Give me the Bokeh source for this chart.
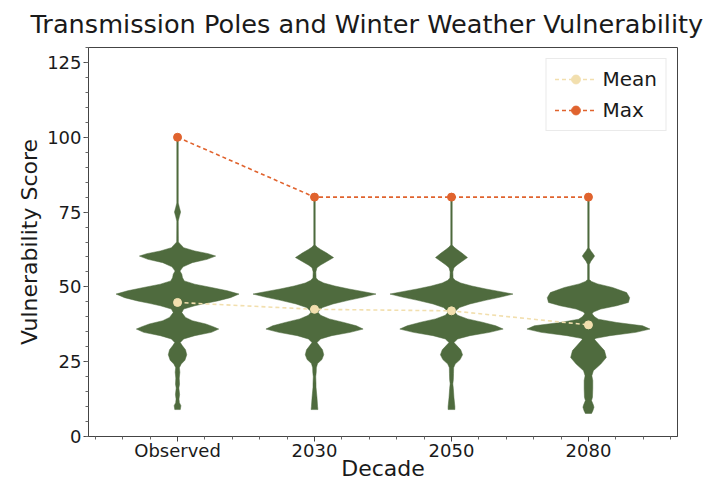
import numpy as np
from bokeh.plotting import figure
from bokeh.models import Range1d, FixedTicker, SingleIntervalTicker, ColumnDataSource, Legend, LegendItem
from bokeh.embed import file_html
from bokeh.resources import INLINE

# ---------------- data ----------------
decades = ["Observed", "2030", "2050", "2080"]
mean_scores = [44.8, 42.5, 42.0, 37.3]
max_scores = [100, 80, 80, 80]

# violin density profiles (score level, relative density; 1 = widest point of each violin)
obs_y = [100, 78, 76.5, 75, 73.5, 72, 65, 64.2, 63.1, 62, 61.1, 60.3, 59.2, 58.1, 56.7, 55.3,
         54.2, 53.1, 52, 50.9, 49.8, 48.7, 47.6, 46.4, 45.3, 44.5, 43.7, 42.6, 41.4,
         39.8, 38.7, 37.6, 36.7, 35.9, 34.8, 33.7, 32.6, 31.4, 30.3, 29, 27.3, 25.5, 24.2,
         23, 21.5, 19.5, 17.5, 16.2, 14, 12.5, 11.3, 10.3, 9]
obs_d = [0.012, 0.012, 0.03, 0.05, 0.03, 0.012, 0.014, 0.05, 0.1, 0.28, 0.5, 0.62, 0.48, 0.24, 0.09, 0.04,
         0.07, 0.08, 0.11, 0.28, 0.55, 0.81, 1.0, 0.86, 0.65, 0.46, 0.28, 0.1, 0.07,
         0.13, 0.24, 0.46, 0.58, 0.67, 0.55, 0.28, 0.1, 0.045, 0.08, 0.13, 0.15, 0.12, 0.06,
         0.03, 0.038, 0.028, 0.033, 0.022, 0.034, 0.024, 0.03, 0.055, 0.045]

y2030 = [80, 64, 63.3, 62.5, 61.3, 59.8, 58.5, 57.3, 56.4, 55, 53, 52.2, 51.3, 50.3, 49.3, 48.4, 47.6,
         46.6, 45.5, 44.3, 43.1, 42, 41.4, 40.5, 39.3, 38.2, 37, 35.9, 34.8, 33.7, 32.6, 31.4,
         30.3, 29, 27.3, 25.7, 24.4, 23, 21.5, 20, 18, 16.4, 13, 10, 9]
d2030 = [0.012, 0.012, 0.04, 0.1, 0.2, 0.31, 0.2, 0.1, 0.04, 0.022, 0.026, 0.06, 0.15, 0.33, 0.56, 0.8, 1.0,
         0.8, 0.55, 0.3, 0.13, 0.07, 0.06, 0.1, 0.24, 0.46, 0.68, 0.79, 0.58, 0.28, 0.1, 0.04,
         0.08, 0.13, 0.15, 0.12, 0.05, 0.03, 0.028, 0.02, 0.024, 0.025, 0.04, 0.05, 0.055]

y2050 = [80, 64, 63.3, 62.5, 61.3, 59.8, 58.5, 57.3, 56.4, 55, 53, 52.2, 51.3, 50.3, 49.3, 48.4, 47.6,
         46.6, 45.5, 44.3, 43.1, 42, 41.4, 40.5, 39.3, 38.2, 37, 35.9, 34.8, 33.7, 32.6, 31.4,
         30.3, 29, 27.3, 25.7, 24.2, 23, 21, 19, 17.6, 16, 13, 10, 9]
d2050 = [0.012, 0.012, 0.04, 0.09, 0.17, 0.26, 0.17, 0.09, 0.04, 0.022, 0.026, 0.06, 0.15, 0.33, 0.56, 0.8, 1.0,
         0.8, 0.55, 0.3, 0.13, 0.07, 0.06, 0.1, 0.26, 0.5, 0.72, 0.84, 0.62, 0.3, 0.1, 0.04,
         0.09, 0.15, 0.18, 0.14, 0.06, 0.035, 0.033, 0.03, 0.022, 0.03, 0.04, 0.055, 0.055]

y2080 = [80, 63, 62, 61.2, 60.3, 59.4, 58.6, 57.5, 52.5, 51.8, 51, 49.8, 48.1, 46.4, 44.8, 43.7, 42.6,
         41.6, 41, 40, 39.2, 38.1, 37, 35.9, 34.8, 33.7, 32.8, 32.4, 31.5, 30.3, 28.7, 26.4, 24.2,
         22, 20.3, 18.7, 16, 13.1, 12, 10.5, 9.8, 8.5, 7.7]
d2080 = [0.012, 0.012, 0.04, 0.07, 0.1, 0.07, 0.04, 0.014, 0.014, 0.05, 0.15, 0.39, 0.62, 0.67, 0.65, 0.46, 0.2,
         0.08, 0.06, 0.1, 0.16, 0.46, 0.88, 1.0, 0.77, 0.35, 0.12, 0.1, 0.14, 0.19, 0.26, 0.29, 0.2,
         0.08, 0.055, 0.07, 0.07, 0.065, 0.05, 0.08, 0.09, 0.07, 0.05]

profiles_y = [obs_y, y2030, y2050, y2080]
profiles_d = [obs_d, d2030, d2050, d2080]

# ---------------- style ----------------
FONT = "DejaVu Sans"
VIOLIN = "#4f6b3e"
MEAN_C = "#f2dfae"
MAX_C = "#e0632e"
HALF = 0.449  # half-width (x units) of the widest point of each violin

positions = list(range(1, len(decades) + 1))

p = figure(width=715, height=483, output_backend="svg", toolbar_location=None,
           x_range=Range1d(0.35, 4.65), y_range=Range1d(0, 130),
           min_border_left=88, min_border_right=38, min_border_top=47, min_border_bottom=10)

p.title.text = "Transmission Poles and Winter Weather Vulnerability"
p.title.text_font = FONT
p.title.text_font_size = "25.6px"
p.title.text_font_style = "normal"
p.title.text_color = "#1a1a1a"
p.title.align = "left"
p.title.offset = -58
p.title.vertical_align = "top"
p.title.standoff = 14

# violins
vx, vy = [], []
for pos, ys, ds in zip(positions, profiles_y, profiles_d):
    ys = np.asarray(ys, float)
    ds = np.asarray(ds, float)
    right = pos + ds * HALF
    left = pos - ds * HALF
    vx.append(np.concatenate([right, left[::-1]]))
    vy.append(np.concatenate([ys, ys[::-1]]))
p.patches(xs=vx, ys=vy, fill_color=VIOLIN, line_color=VIOLIN, line_width=0.5)

src = ColumnDataSource(dict(x=positions, mean=mean_scores, mx=max_scores))
mean_line = p.line("x", "mean", source=src, line_color=MEAN_C, line_width=1.6, line_dash="4 3")
mean_pts = p.scatter("x", "mean", source=src, size=8, fill_color=MEAN_C, line_color=MEAN_C)
max_line = p.line("x", "mx", source=src, line_color=MAX_C, line_width=1.6, line_dash="4 3")
max_pts = p.scatter("x", "mx", source=src, size=8, fill_color=MAX_C, line_color=MAX_C)

legend = Legend(items=[LegendItem(label="Mean", renderers=[mean_line, mean_pts]),
                       LegendItem(label="Max", renderers=[max_line, max_pts])],
                location="top_right", margin=11, padding=8, spacing=7,
                glyph_width=42, glyph_height=22, label_height=22,
                label_text_font=FONT, label_text_font_size="20px", label_text_color="#1a1a1a",
                border_line_color="#d6d6d6", border_line_width=1, label_standoff=6)
p.add_layout(legend)

# axes
minor_x = [round(v, 1) for v in np.arange(0.4, 4.61, 0.2) if abs(v - round(v)) > 1e-6]
p.xaxis.ticker = FixedTicker(ticks=positions, minor_ticks=minor_x)
p.xaxis.major_label_overrides = {pos: lab for pos, lab in zip(positions, decades)}
p.yaxis.ticker = SingleIntervalTicker(interval=25, num_minor_ticks=5)

p.xaxis.axis_label = "Decade"
p.yaxis.axis_label = "Vulnerability Score"
for ax in (p.xaxis, p.yaxis):
    ax.axis_label_text_font = FONT
    ax.axis_label_text_font_size = "22px"
    ax.axis_label_text_font_style = "normal"
    ax.axis_label_text_color = "#1a1a1a"
    ax.major_label_text_font = FONT
    ax.major_label_text_font_size = "18px"
    ax.major_label_text_color = "#1a1a1a"
    ax.axis_line_color = "#444444"
    ax.major_tick_line_color = "#444444"
    ax.minor_tick_line_color = "#666666"
    ax.major_tick_out = 5
    ax.major_tick_in = 0
    ax.minor_tick_out = 3
    ax.minor_tick_in = 0
p.xaxis.major_label_standoff = -2
p.xaxis.axis_label_standoff = -8
p.yaxis.major_label_standoff = 2
p.yaxis.axis_label_standoff = 2

p.xgrid.visible = False
p.ygrid.visible = False
p.outline_line_color = "#444444"
p.outline_line_width = 1
p.background_fill_color = "white"
p.border_fill_color = "white"

open("out.html", "w").write(file_html(p, INLINE))
